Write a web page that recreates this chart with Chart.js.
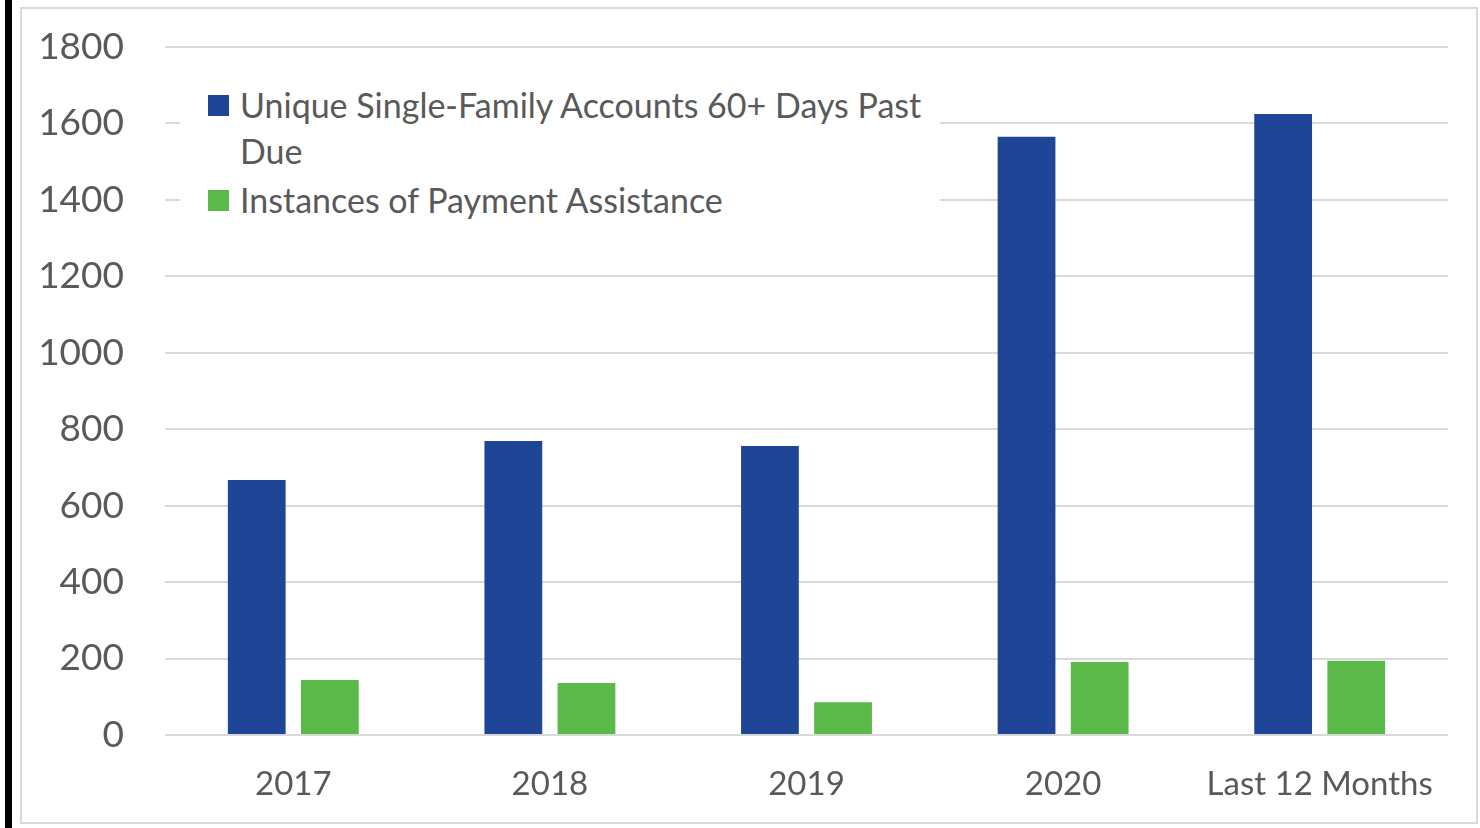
<!DOCTYPE html>
<html>
<head>
<meta charset="utf-8">
<script src="https://cdn.jsdelivr.net/npm/chart.js@4"></script>
<style>
  body { margin: 0; background: #fff; }
  #wrap { position: relative; width: 1480px; height: 828px; overflow: hidden; }
  #blackbar { position: absolute; left: 5px; top: 0; width: 7px; height: 828px; background: #000; }
  #frame { position: absolute; left: 20px; top: 7px; width: 1454px; height: 813px; border: 2px solid #d9d9d9; }
  #grap1 { position: absolute; left: 0; top: 0; }
  #legend { position: absolute; left: 180px; top: 78px; width: 760px; background: #fff;
            font-family: Lato, sans-serif; font-size: 34px; color: #595959; padding: 4px 0 8px 0; }
  .item { position: relative; padding-left: 60px; line-height: 46px; width: 700px; margin-bottom: 3px; }
  .box { position: absolute; left: 28px; top: 13px; width: 21px; height: 21px; }
</style>
</head>
<body>
<div id="wrap">
  <div id="blackbar"></div>
  <div id="frame"></div>
  <canvas id="grap1" width="1480" height="828"></canvas>
  <div id="legend"></div>
</div>
<script>
var categories = ["2017", "2018", "2019", "2020", "Last 12 Months"];
var accountsPastDue = [667, 769, 756, 1565, 1625];
var paymentAssistance = [144, 136, 86, 191, 194];
var seriesNames = ["Unique Single-Family Accounts 60+ Days Past Due", "Instances of Payment Assistance"];
var seriesColors = ["#1F4696", "#5BB94A"];
var yMax = 1800;
var yStep = 200;

var ctx = document.getElementById("grap1").getContext("2d");
var myChart = new Chart(ctx, {
    type: 'bar',
    data: {
        labels: categories,
        datasets: [{
            label: seriesNames[0],
            data: accountsPastDue,
            backgroundColor: seriesColors[0],
            categoryPercentage: 0.57,
            barPercentage: 0.79
        }, {
            label: seriesNames[1],
            data: paymentAssistance,
            backgroundColor: seriesColors[1],
            categoryPercentage: 0.57,
            barPercentage: 0.79
        }]
    },
    options: {
        responsive: false,
        animation: false,
        layout: {
            padding: { left: 20, right: 32, top: 47, bottom: 0 }
        },
        plugins: {
            legend: { display: false },
            tooltip: { enabled: false }
        },
        scales: {
            x: {
                grid: { display: false },
                border: { display: false },
                ticks: {
                    color: '#595959',
                    font: { family: 'Lato', size: 33 },
                    padding: 22,
                    maxRotation: 0
                },
                afterFit: function (axis) { axis.height = 93; }
            },
            y: {
                min: 0,
                max: yMax,
                grid: { color: '#d9d9d9', lineWidth: 2, drawTicks: false },
                border: { display: false },
                ticks: {
                    stepSize: yStep,
                    color: '#595959',
                    font: { family: 'Lato', size: 37 },
                    padding: 41,
                    callback: function (value) { return String(value); }
                },
                afterFit: function (axis) {
                    axis.width = 145;
                    axis.paddingTop = 0;
                    axis.paddingBottom = 0;
                }
            }
        }
    }
});

// legend as html so the long label wraps like the original
var legend = document.getElementById("legend");
myChart.data.datasets.forEach(function (ds) {
    var item = document.createElement("div");
    item.className = "item";
    var box = document.createElement("span");
    box.className = "box";
    box.style.background = ds.backgroundColor;
    item.appendChild(box);
    item.appendChild(document.createTextNode(ds.label));
    legend.appendChild(item);
});
</script>
</body>
</html>
